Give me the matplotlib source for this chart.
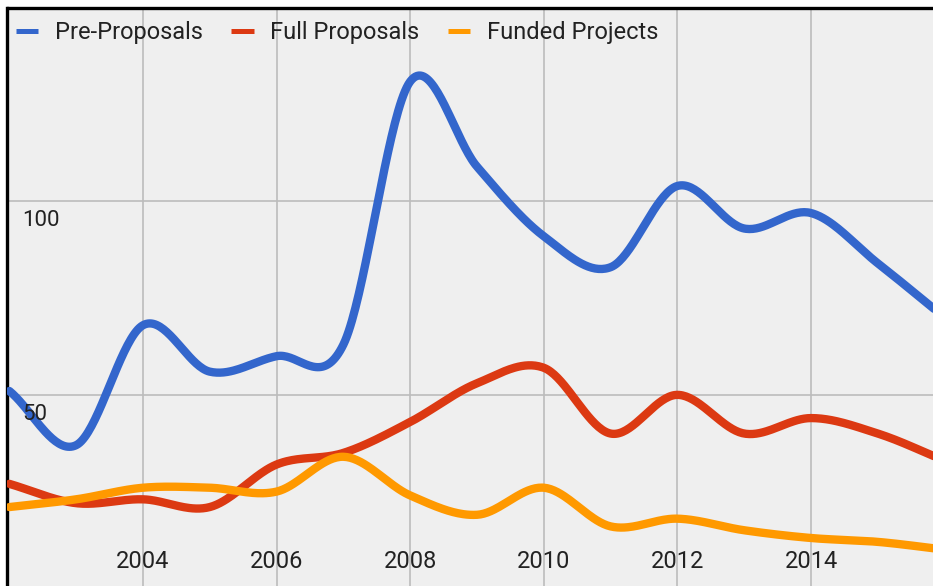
"""Pre-proposals, full proposals and funded projects per year."""

import matplotlib

matplotlib.use("Agg")
import matplotlib.pyplot as plt
import numpy as np

years = np.arange(2002, 2017)
pre_proposals = [51, 37, 68, 56, 60, 63, 131, 109, 91, 83, 104, 93, 97, 84, 70]
full_proposals = [27, 22, 23, 21, 32, 35, 43, 53, 57, 40, 50, 40, 44, 40, 33]
funded_projects = [21, 23, 26, 26, 25, 34, 24, 19, 26, 16, 18, 15, 13, 12, 10]

series_names = ["Pre-Proposals", "Full Proposals", "Funded Projects"]
series_colors = ["#3366cc", "#dc3912", "#ff9900"]
x_ticks = [2004, 2006, 2008, 2010, 2012, 2014]
y_ticks = [50, 100]

plt.rcParams["font.family"] = ["Roboto", "DejaVu Sans"]


def smooth_curve(x, y, steps=40):
    """Cubic Hermite (Catmull-Rom style) curve through the points, for display."""
    x = np.asarray(x, dtype=float)
    y = np.asarray(y, dtype=float)
    slopes = np.gradient(y, x)
    t = np.linspace(0.0, 1.0, steps)
    h00 = 2 * t**3 - 3 * t**2 + 1
    h10 = t**3 - 2 * t**2 + t
    h01 = -2 * t**3 + 3 * t**2
    h11 = t**3 - t**2
    xs, ys = [], []
    for i in range(len(x) - 1):
        dx = x[i + 1] - x[i]
        xs.append(x[i] + t * dx)
        ys.append(h00 * y[i] + h10 * dx * slopes[i] + h01 * y[i + 1] + h11 * dx * slopes[i + 1])
    return np.concatenate(xs), np.concatenate(ys)


W, H = 933, 586
fig = plt.figure(figsize=(W / 100, H / 100), dpi=100, facecolor="white")
ax = fig.add_axes([7.5 / W, -2.3 / H, 1 - 7.5 / W, 580.3 / H])
ax.set_facecolor("#efefef")

for values, name, color in zip(
    [pre_proposals, full_proposals, funded_projects], series_names, series_colors
):
    xs, ys = smooth_curve(years, values)
    ax.plot(xs, ys, color=color, lw=6, label=name, solid_capstyle="round", zorder=3)

ax.set_xlim(2001.972, 2015.826)
ax.set_ylim(0, 150)
ax.set_xticks(x_ticks)
ax.set_yticks(y_ticks)
ax.set_xticklabels([])
ax.set_yticklabels([])
ax.tick_params(length=0)
ax.grid(True, color="#bcbcbc", lw=1.2, zorder=1)

for spine in ["right", "bottom"]:
    ax.spines[spine].set_visible(False)
for spine in ["left", "top"]:
    ax.spines[spine].set_color("black")
    ax.spines[spine].set_linewidth(2.4)

for year in x_ticks:
    ax.annotate(
        str(year), xy=(year, 0), xycoords=("data", "axes fraction"),
        xytext=(0, 27), textcoords="offset pixels",
        ha="center", va="center", fontsize=17, color="#222222",
    )
for value in y_ticks:
    ax.annotate(
        str(value), xy=(0, value), xycoords=("axes fraction", "data"),
        xytext=(15, -9), textcoords="offset pixels",
        ha="left", va="top", fontsize=16, color="#222222",
    )

leg = ax.legend(
    loc="upper left", bbox_to_anchor=(0.0, 1.0 - 5 / 580.3), ncol=3, frameon=False,
    fontsize=17, handlelength=0.95, handletextpad=0.7, columnspacing=1.2,
    borderpad=0.0, borderaxespad=0.36, labelcolor="#222222",
)
for handle in leg.get_lines():
    handle.set_linewidth(3.6)
    handle.set_solid_capstyle("butt")

fig.savefig("out.png", dpi=100, facecolor="white")
